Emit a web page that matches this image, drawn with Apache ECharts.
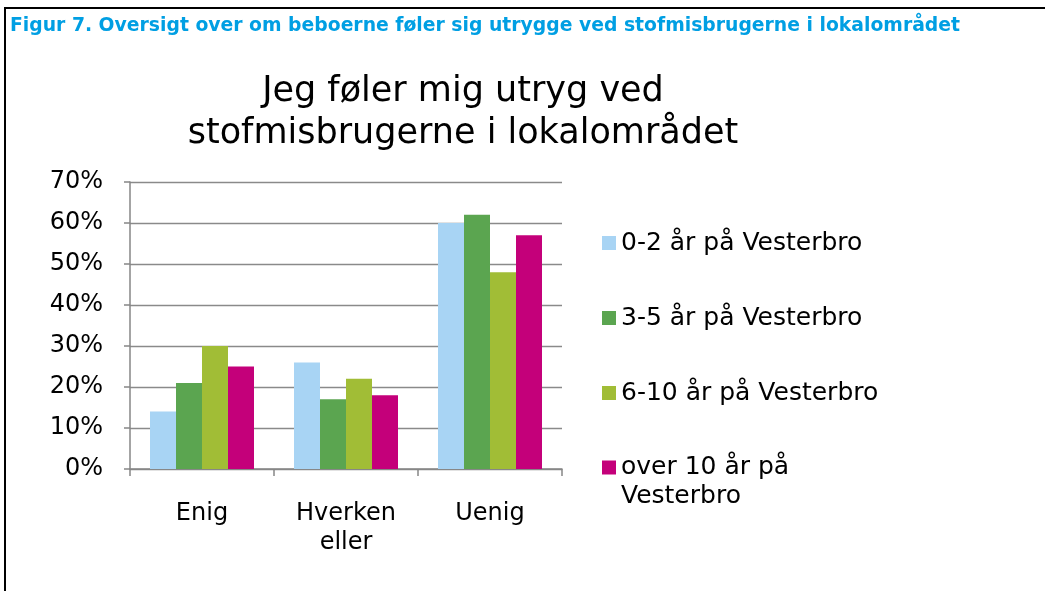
<!DOCTYPE html>
<html>
<head>
<meta charset="utf-8">
<script src="https://cdn.jsdelivr.net/npm/echarts@6/dist/echarts.min.js"></script>
<style>
  html, body { margin: 0; padding: 0; background: #fff; }
  #chart { width: 1045px; height: 591px; }
</style>
</head>
<body>
<div id="chart"></div>
<script>
// data (percent)
var categories = ['Enig', 'Hverken eller', 'Uenig']
var seriesNames = ['0-2 år på Vesterbro', '3-5 år på Vesterbro', '6-10 år på Vesterbro', 'over 10 år på Vesterbro']
var years0to2 = [14, 26, 60]
var years3to5 = [21, 17, 62]
var years6to10 = [30, 22, 48]
var yearsOver10 = [25, 18, 57]
var yTicks = [0, 10, 20, 30, 40, 50, 60, 70]

var colors = ['#a8d4f4', '#5ba550', '#a1bd36', '#c4007a']
var font = 'DejaVu Sans'

var myChart = echarts.init(document.getElementById('chart'))

function bar (i, data) {
  return {
    name: seriesNames[i],
    type: 'bar',
    barWidth: 26,
    barGap: '0%',
    data: data,
    itemStyle: { color: colors[i] }
  }
}

var legendText = { fontFamily: font, fontSize: 25, lineHeight: 29, color: '#000' }

myChart.setOption({
  animation: false,
  color: colors,
  graphic: [
    {
      // figure frame (top and left rule)
      type: 'polyline',
      shape: { points: [[5, 591], [5, 8], [1045, 8]] },
      style: { stroke: '#000', lineWidth: 2, fill: null }
    }
  ],
  title: [
    {
      text: 'Figur 7. Oversigt over om beboerne føler sig utrygge ved stofmisbrugerne i lokalområdet',
      left: 10,
      top: 16,
      padding: 0,
      textStyle: {
        fontFamily: font,
        fontWeight: 'bold',
        fontSize: 18.8,
        lineHeight: 20,
        color: '#009fe3'
      }
    },
    {
      text: 'Jeg føler mig utryg ved\nstofmisbrugerne i lokalområdet',
      left: 463,
      top: 71,
      padding: 0,
      textAlign: 'center',
      textStyle: {
        fontFamily: font,
        fontWeight: 'normal',
        fontSize: 35,
        lineHeight: 42,
        color: '#000'
      }
    }
  ],
  legend: [
    {
      orient: 'vertical',
      left: 602,
      top: 228.5,
      padding: 0,
      itemWidth: 14,
      itemHeight: 14,
      itemGap: 46,
      icon: 'rect',
      data: seriesNames.slice(0, 3),
      textStyle: legendText
    },
    {
      // last entry wraps; an empty first line keeps the square beside the first text line
      orient: 'vertical',
      left: 602,
      top: 424,
      padding: 0,
      itemWidth: 14,
      itemHeight: 14,
      icon: 'rect',
      data: seriesNames.slice(3),
      formatter: function (name) { return '{s| }\n' + name.replace(' på ', ' på\n') },
      textStyle: Object.assign({}, legendText, {
        rich: { s: { fontSize: 25, lineHeight: 29 } }
      })
    }
  ],
  grid: {
    left: 130,
    right: 483,
    top: 182,
    bottom: 122,
    containLabel: false
  },
  xAxis: {
    type: 'category',
    data: categories,
    axisLine: { lineStyle: { color: '#868686', width: 1.5 } },
    axisTick: { show: true, length: 7, lineStyle: { color: '#868686', width: 1.5 } },
    axisLabel: {
      margin: 30,
      fontFamily: font,
      fontSize: 24,
      lineHeight: 29,
      color: '#000',
      formatter: function (v) { return v.replace(' ', '\n') }
    }
  },
  yAxis: {
    type: 'value',
    min: yTicks[0],
    max: yTicks[yTicks.length - 1],
    interval: 10,
    axisLine: { show: true, lineStyle: { color: '#868686', width: 1.5 } },
    axisTick: { show: true, length: 6, lineStyle: { color: '#868686', width: 1.5 } },
    splitLine: { lineStyle: { color: '#8a8a8a', width: 1.3 } },
    axisLabel: {
      margin: 27,
      fontFamily: font,
      fontSize: 24,
      color: '#000',
      formatter: '{value}%'
    }
  },
  series: [
    bar(0, years0to2),
    bar(1, years3to5),
    bar(2, years6to10),
    bar(3, yearsOver10)
  ]
})
</script>
</body>
</html>
